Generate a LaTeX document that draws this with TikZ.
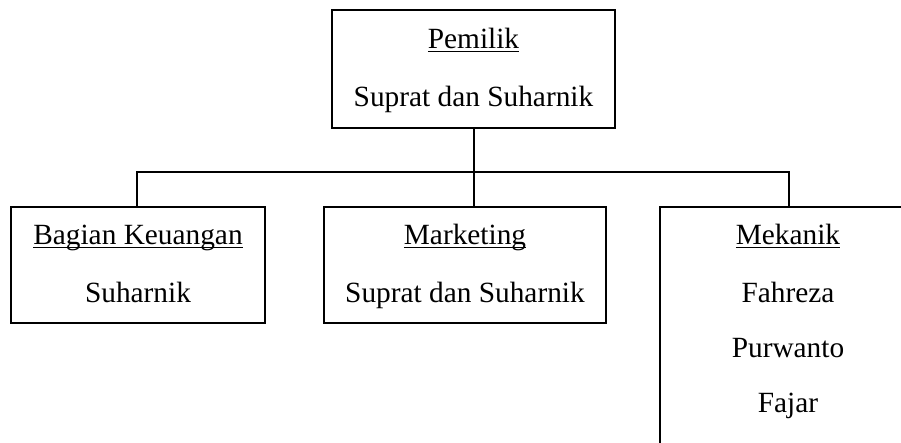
\documentclass[tikz,border=0pt]{standalone}
\usepackage{fontspec}
\setmainfont{Liberation Serif}
\newcommand\myul[1]{\setbox0\hbox{#1}\rlap{\rule[-3.3pt]{\wd0}{1.1pt}}\box0}
\tikzset{
  boxnode/.style={draw, line width=1.5pt, inner sep=0pt, rectangle},
  txt/.style={anchor=base, inner sep=0pt, font=\fontsize{22}{26}\selectfont},
  conn/.style={line width=1.5pt}
}
\begin{document}
\begin{tikzpicture}[x=0.75pt, y=-0.75pt]
\useasboundingbox (0,0) rectangle (901,443);
% boxes
\node[boxnode, minimum width=283*0.75pt, minimum height=118*0.75pt] (top) at (473.5,69) {};
\node[boxnode, minimum width=254*0.75pt, minimum height=116*0.75pt] (keu) at (138,265) {};
\node[boxnode, minimum width=282*0.75pt, minimum height=116*0.75pt] (mkt) at (465,265) {};
\node[boxnode, minimum width=300*0.75pt, minimum height=273*0.75pt] (mek) at (810,343.5) {};
% texts
\node[txt] (t1) at (473.5,48) {\myul{Pemilik}};
\node[txt] (t2) at (473.5,106) {Suprat dan Suharnik};
\node[txt] (k1) at (138,244) {\myul{Bagian Keuangan}};
\node[txt] (k2) at (138,302) {Suharnik};
\node[txt] (m1) at (465,244) {\myul{Marketing}};
\node[txt] (m2) at (465,302) {Suprat dan Suharnik};
\node[txt] (e1) at (788,244) {\myul{Mekanik}};
\node[txt] (e2) at (788,302) {Fahreza};
\node[txt] (e3) at (788,357) {Purwanto};
\node[txt] (e4) at (788,412) {Fajar};
% connectors
\coordinate (busL) at (137,172);
\coordinate (busR) at (789,172);
\draw[conn] (top.south) -- (top.south |- mkt.north);
\draw[conn] (keu.north -| busL) -- (busL) -- (busR) -- (busR |- mek.north);
\end{tikzpicture}
\end{document}
